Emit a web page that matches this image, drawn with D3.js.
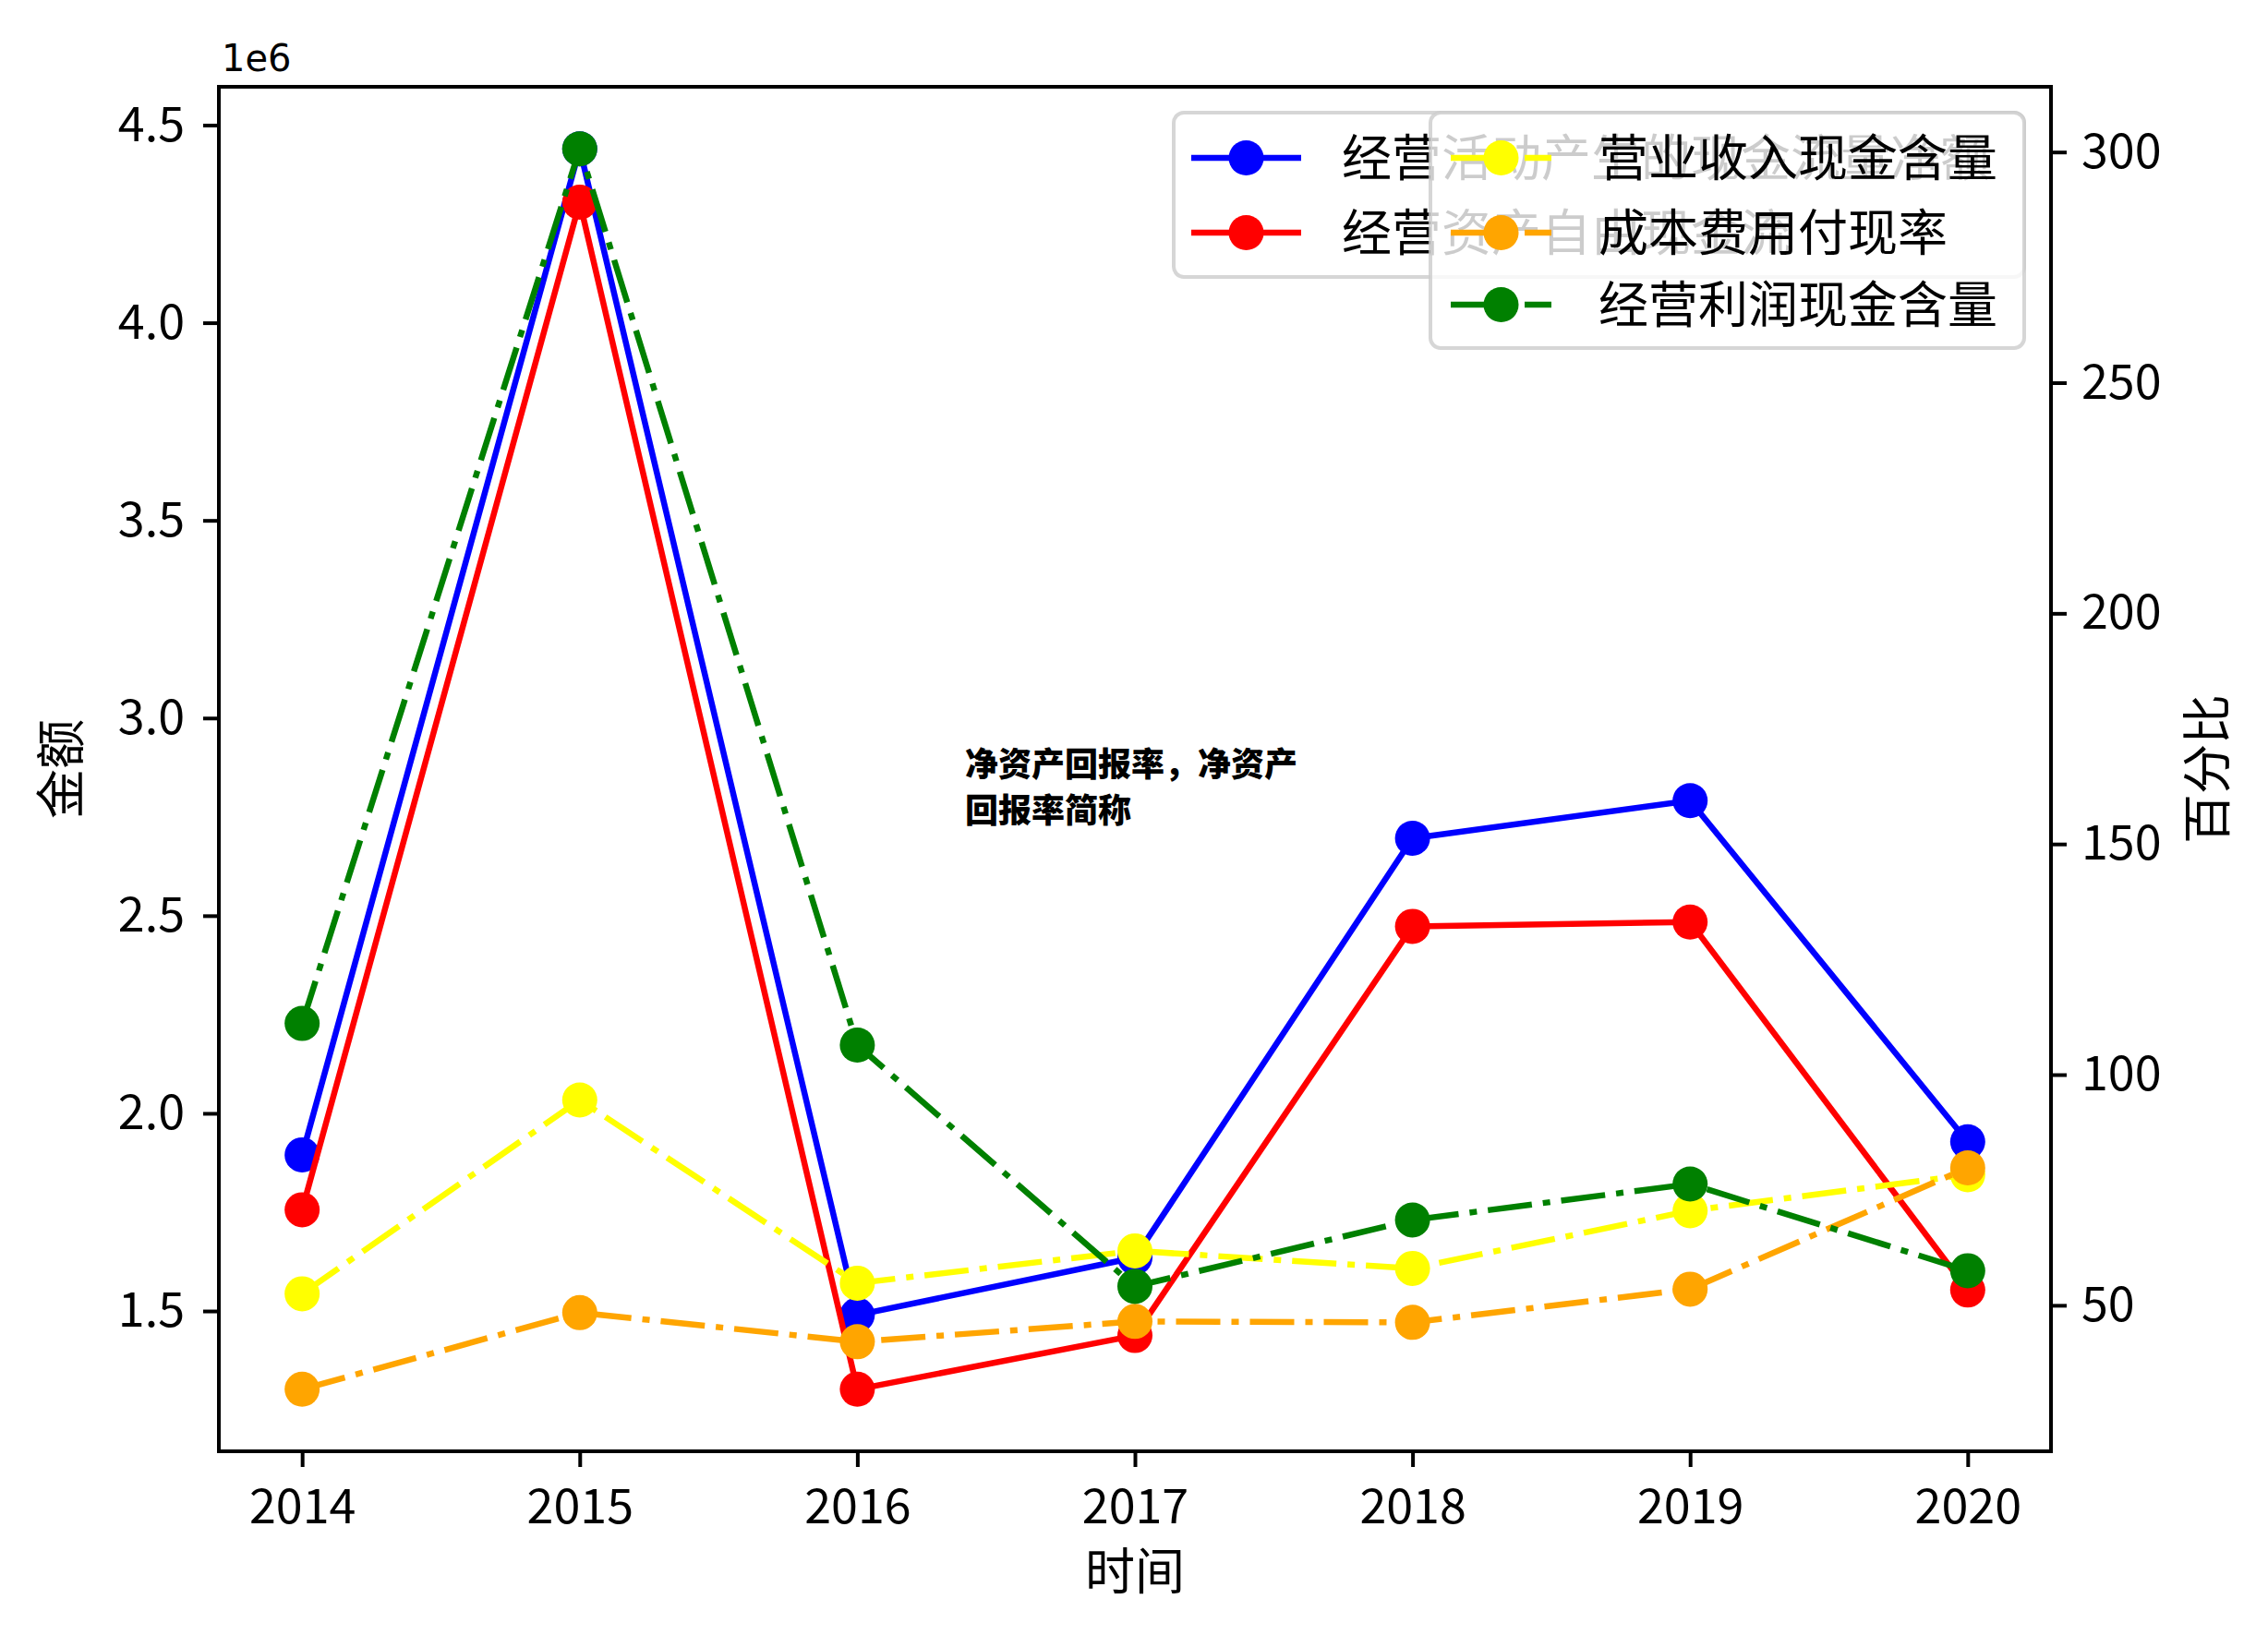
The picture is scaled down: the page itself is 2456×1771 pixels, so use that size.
<!DOCTYPE html>
<html>
<head>
<meta charset="utf-8">
<script src="https://cdn.jsdelivr.net/npm/d3@7"></script>
<style>
  html, body { margin: 0; padding: 0; background: #ffffff; }
  svg { display: block; }
</style>
</head>
<body>
<svg id="chart" width="2456" height="1771"></svg>
<script>
// ---------------- data ----------------
const years = [2014, 2015, 2016, 2017, 2018, 2019, 2020];
// left axis (金额)
const opCashFlow   = [1.895e6, 4.44e6, 1.49e6, 1.635e6, 2.696e6, 2.791e6, 1.928e6]; // 经营活动产生的现金流量净额
const freeCashFlow = [1.756e6, 4.305e6, 1.302e6, 1.438e6, 2.473e6, 2.484e6, 1.553e6]; // 经营资产自由现金流
// right axis (百分比)
const revenueCash  = [52.5, 94.5, 54.8, 61.8, 58.0, 70.5, 78.3];     // 营业收入现金含量
const costCashRate = [31.8, 48.4, 42.1, 46.5, 46.3, 53.5, 79.8];     // 成本费用付现率
const profitCash   = [111.1, 300.7, 106.4, 54.1, 68.5, 76.3, 57.5];  // 经营利润现金含量

const leftTicks  = [1.5e6, 2.0e6, 2.5e6, 3.0e6, 3.5e6, 4.0e6, 4.5e6];
const leftTickLabels = ["1.5", "2.0", "2.5", "3.0", "3.5", "4.0", "4.5"];
const rightTicks = [50, 100, 150, 200, 250, 300];
const rightTickLabels = ["50", "100", "150", "200", "250", "300"];

const leftNames  = ["经营活动产生的现金流量净额", "经营资产自由现金流"];
const rightNames = ["营业收入现金含量", "成本费用付现率", "经营利润现金含量"];

// ---------------- layout ----------------
const FONT = "'Noto Sans CJK SC', 'Noto Sans', sans-serif";
const L = 237, R = 2221, T = 94, B = 1572;
const svg = d3.select("#chart");
svg.append("rect").attr("width", 2456).attr("height", 1771).attr("fill", "#ffffff");

function padded(values) {
  const [lo, hi] = d3.extent(values);
  const p = (hi - lo) * 0.05;
  return [lo - p, hi + p];
}
const x = d3.scaleLinear().domain([years[0] - 0.3, years[years.length - 1] + 0.3]).range([L, R]);
const yL = d3.scaleLinear().domain(padded(opCashFlow.concat(freeCashFlow))).range([B, T]);
const yR = d3.scaleLinear().domain(padded(revenueCash.concat(costCashRate, profitCash))).range([B, T]);

const DASHDOT = "48,12,8,12";
const LW = 6.5, MR = 19;

const leftSeries = [
  { name: leftNames[0], values: opCashFlow, color: "#0000ff", dash: null },
  { name: leftNames[1], values: freeCashFlow, color: "#ff0000", dash: null }
];
const rightSeries = [
  { name: rightNames[0], values: revenueCash, color: "#ffff00", dash: DASHDOT },
  { name: rightNames[1], values: costCashRate, color: "#ffa500", dash: DASHDOT },
  { name: rightNames[2], values: profitCash, color: "#008000", dash: DASHDOT }
];

function drawSeries(g, s, yScale) {
  const line = d3.line().x((d, i) => x(years[i])).y(d => yScale(d));
  g.append("path")
    .attr("d", line(s.values))
    .attr("fill", "none")
    .attr("stroke", s.color)
    .attr("stroke-width", LW)
    .attr("stroke-linejoin", "round")
    .attr("stroke-linecap", s.dash ? "butt" : "square")
    .attr("stroke-dasharray", s.dash);
  g.selectAll(null).data(s.values).enter().append("circle")
    .attr("cx", (d, i) => x(years[i]))
    .attr("cy", d => yScale(d))
    .attr("r", MR)
    .attr("fill", s.color);
}

function drawLegend(series, box, rows, handleX, textX) {
  const g = svg.append("g");
  g.append("rect")
    .attr("x", box.x).attr("y", box.y).attr("width", box.w).attr("height", box.h)
    .attr("rx", 11).attr("ry", 11)
    .attr("fill", "#ffffff").attr("fill-opacity", 0.8)
    .attr("stroke", "#cccccc").attr("stroke-opacity", 0.8).attr("stroke-width", 4);
  series.forEach((s, i) => {
    const yy = rows[i];
    g.append("line")
      .attr("x1", handleX[0]).attr("x2", handleX[1]).attr("y1", yy).attr("y2", yy)
      .attr("stroke", s.color).attr("stroke-width", LW)
      .attr("stroke-linecap", "butt")
      .attr("stroke-dasharray", s.dash);
    g.append("circle")
      .attr("cx", (handleX[0] + handleX[1]) / 2).attr("cy", yy).attr("r", MR)
      .attr("fill", s.color);
    g.append("text")
      .attr("x", textX).attr("y", yy + 20)
      .attr("font-family", FONT).attr("font-size", 54).attr("fill", "#000")
      .text(s.name);
  });
}

// ---------- left-axis content ----------
const gL = svg.append("g");
leftSeries.forEach(s => drawSeries(gL, s, yL));
drawLegend(leftSeries, { x: 1271, y: 122, w: 921, h: 178 }, [171, 252], [1290, 1409], 1453);

// annotation text
const ann = svg.append("text")
  .attr("font-family", FONT).attr("font-size", 36).attr("font-weight", 900).attr("fill", "#000");
ann.append("tspan").attr("x", 1045).attr("y", 841).text("净资产回报率，净资产");
ann.append("tspan").attr("x", 1045).attr("y", 891).text("回报率简称");

// ---------- right-axis content ----------
const gR = svg.append("g");
rightSeries.forEach(s => drawSeries(gR, s, yR));
drawLegend(rightSeries, { x: 1549, y: 122, w: 643, h: 255 }, [171, 252, 330], [1571, 1680], 1731);

// ---------- axes ----------
function styleAxis(g) {
  g.select(".domain").remove();
  g.selectAll(".tick line").attr("stroke", "#000").attr("stroke-width", 4);
  g.selectAll(".tick text").attr("font-family", FONT).attr("font-size", 52).attr("fill", "#000");
}
const axL = svg.append("g").attr("transform", `translate(${L},0)`)
  .call(d3.axisLeft(yL).tickValues(leftTicks).tickFormat((d, i) => leftTickLabels[i]).tickSize(17).tickPadding(20));
styleAxis(axL);
const axR = svg.append("g").attr("transform", `translate(${R},0)`)
  .call(d3.axisRight(yR).tickValues(rightTicks).tickFormat((d, i) => rightTickLabels[i]).tickSize(17).tickPadding(16));
styleAxis(axR);
const axB = svg.append("g").attr("transform", `translate(0,${B})`)
  .call(d3.axisBottom(x).tickValues(years).tickFormat(d => String(d)).tickSize(17).tickPadding(24));
styleAxis(axB);

// spines
svg.append("rect")
  .attr("x", L).attr("y", T).attr("width", R - L).attr("height", B - T)
  .attr("fill", "none").attr("stroke", "#000").attr("stroke-width", 4);

// offset text
svg.append("text").attr("x", 240).attr("y", 77)
  .attr("font-family", "'DejaVu Sans', sans-serif").attr("font-size", 40).attr("fill", "#000")
  .text("1e6");

// axis titles
svg.append("text").attr("x", (L + R) / 2).attr("y", 1722)
  .attr("text-anchor", "middle").attr("font-family", FONT).attr("font-size", 54).attr("fill", "#000")
  .text("时间");
svg.append("text")
  .attr("transform", `translate(86,${(T + B) / 2}) rotate(-90)`)
  .attr("text-anchor", "middle").attr("font-family", FONT).attr("font-size", 54).attr("fill", "#000")
  .text("金额");
svg.append("text")
  .attr("transform", `translate(2410,${(T + B) / 2}) rotate(-90)`)
  .attr("text-anchor", "middle").attr("font-family", FONT).attr("font-size", 54).attr("fill", "#000")
  .text("百分比");
</script>
</body>
</html>
